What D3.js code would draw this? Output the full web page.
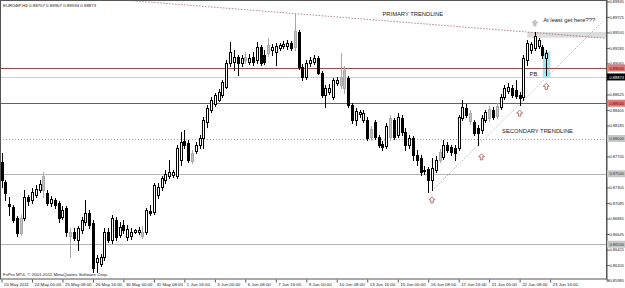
<!DOCTYPE html>
<html>
<head>
<meta charset="utf-8">
<script src="https://cdn.jsdelivr.net/npm/d3@7"></script>
<style>
body { margin: 0; background: #fff; }
svg { display: block; }
text { font-family: "Liberation Sans", Arial, sans-serif; }
</style>
</head>
<body>
<div id="chart-area"></div>
<script>
// EURGBP H4 candles, 20 May 16:00 .. 23 Jun 12:00
var open = [.8767,.8738,.8707,.8703,.8687,.8666,.8687,.8717,.8713,.8720,
  .8727,.8727,.8723,.8708,.8713,.8708,.8688,.8701,.8667,.8667,
  .8656,.8670,.8681,.8694,.8680,.8625,.8622,.8632,.8667,.8656,
  .8684,.8663,.8677,.8660,.8661,.8668,.8667,.8661,.8667,.8697,
  .8696,.8720,.8731,.8741,.8747,.8748,.8747,.8769,.8796,.8793,
  .8768,.8782,.8791,.8801,.8823,.8840,.8849,.8855,.8862,.8873,
  .8907,.8908,.8916,.8907,.8911,.8908,.8916,.8911,.8930,.8918,
  .8921,.8925,.8923,.8928,.8931,.8931,.8935,.8930,.8951,.8901,
  .8887,.8907,.8908,.8914,.8893,.8862,.8866,.8859,.8879,.8876,
  .8872,.8886,.8847,.8826,.8835,.8826,.8826,.8802,.8823,.8802,
  .8792,.8789,.8802,.8826,.8805,.8829,.8809,.8791,.8801,.8776,
  .8772,.8755,.8757,.8741,.8755,.8769,.8774,.8791,.8788,.8786,
  .8786,.8829,.8843,.8836,.8823,.8815,.8812,.8826,.8829,.8840,
  .8832,.8845,.8859,.8867,.8872,.8869,.8862,.8859,.8911,.8925,
  .8928,.8931,.8930,.8914];
var high = [.8779,.8741,.8717,.8705,.8690,.8691,.8727,.8720,.8730,.8734,
  .8741,.8752,.8727,.8718,.8715,.8711,.8704,.8704,.8673,.8673,
  .8676,.8688,.8713,.8698,.8684,.8635,.8636,.8673,.8673,.8691,
  .8688,.8681,.8684,.8677,.8673,.8671,.8674,.8676,.8701,.8705,
  .8737,.8737,.8747,.8755,.8769,.8755,.8791,.8809,.8812,.8798,
  .8784,.8795,.8805,.8830,.8847,.8859,.8864,.8870,.8883,.8911,
  .8937,.8925,.8918,.8918,.8923,.8920,.8923,.8937,.8933,.8925,
  .8943,.8934,.8935,.8935,.8938,.8940,.8938,.8977,.8954,.8906,
  .8911,.8916,.8918,.8917,.8896,.8876,.8877,.8886,.8887,.8921,
  .8903,.8889,.8850,.8843,.8840,.8840,.8830,.8818,.8826,.8805,
  .8796,.8822,.8833,.8829,.8836,.8833,.8815,.8805,.8803,.8784,
  .8776,.8761,.8760,.8772,.8775,.8785,.8798,.8795,.8791,.8791,
  .8833,.8855,.8849,.8840,.8826,.8819,.8833,.8840,.8846,.8845,
  .8850,.8863,.8876,.8879,.8876,.8883,.8866,.8918,.8940,.8937,
  .8951,.8943,.8933,.8925];
var low = [.8731,.8713,.8691,.8681,.8661,.8663,.8684,.8705,.8708,.8717,
  .8724,.8717,.8705,.8704,.8701,.8681,.8686,.8661,.8632,.8656,
  .8642,.8666,.8678,.8673,.8610,.8610,.8619,.8628,.8653,.8652,
  .8656,.8660,.8666,.8656,.8657,.8666,.8664,.8659,.8664,.8691,
  .8693,.8715,.8727,.8737,.8744,.8745,.8744,.8762,.8786,.8767,
  .8765,.8779,.8786,.8786,.8816,.8837,.8846,.8853,.8859,.8872,
  .8903,.8897,.8890,.8903,.8907,.8906,.8904,.8907,.8904,.8906,
  .8917,.8918,.8904,.8925,.8928,.8927,.8925,.8925,.8899,.8883,
  .8884,.8903,.8906,.8891,.8859,.8845,.8863,.8856,.8876,.8872,
  .8864,.8845,.8822,.8819,.8830,.8823,.8798,.8798,.8799,.8788,
  .8784,.8786,.8798,.8799,.8802,.8805,.8784,.8786,.8769,.8762,
  .8748,.8750,.8724,.8727,.8752,.8767,.8771,.8781,.8776,.8769,
  .8784,.8826,.8830,.8820,.8805,.8791,.8808,.8823,.8825,.8828,
  .8829,.8842,.8856,.8864,.8859,.8857,.8847,.8855,.8904,.8921,
  .8925,.8928,.8914,.8890];
var close = [.8741,.8723,.8704,.8684,.8666,.8687,.8717,.8711,.8724,.8728,
  .8735,.8747,.8708,.8714,.8705,.8687,.8698,.8667,.8661,.8659,
  .8673,.8684,.8694,.8677,.8616,.8630,.8632,.8667,.8656,.8687,
  .8660,.8674,.8670,.8671,.8668,.8670,.8670,.8668,.8698,.8694,
  .8734,.8731,.8744,.8750,.8752,.8752,.8786,.8795,.8791,.8769,
  .8779,.8791,.8801,.8826,.8843,.8855,.8862,.8866,.8880,.8907,
  .8923,.8916,.8907,.8914,.8916,.8914,.8908,.8930,.8907,.8908,
  .8933,.8930,.8931,.8933,.8934,.8935,.8928,.8952,.8901,.8887,
  .8907,.8911,.8914,.8893,.8862,.8872,.8872,.8883,.8883,.8887,
  .8897,.8847,.8826,.8839,.8837,.8836,.8801,.8813,.8802,.8791,
  .8788,.8818,.8829,.8802,.8830,.8809,.8791,.8801,.8776,.8769,
  .8752,.8754,.8741,.8758,.8769,.8781,.8791,.8784,.8781,.8779,
  .8830,.8845,.8833,.8825,.8808,.8808,.8829,.8837,.8842,.8830,
  .8846,.8859,.8872,.8873,.8862,.8860,.8857,.8914,.8935,.8934,
  .8945,.8940,.8918,.8921];
// candles drawn in gray on the chart
var grayBars = [5,11,18,37,50,64,70,77,89,90,97,102,115,123,128,130];

// time scale labels, one every 8 bars
var timeLabels = ["20 May 2011","24 May 00:00","25 May 08:00","26 May 16:00","30 May 00:00",
  "31 May 08:00","1 Jun 16:00","3 Jun 00:00","6 Jun 08:00","7 Jun 16:00","9 Jun 00:00",
  "10 Jun 08:00","13 Jun 16:00","15 Jun 00:00","16 Jun 08:00","17 Jun 16:00","21 Jun 00:00",
  "22 Jun 08:00","23 Jun 16:00"];
var priceTicks = [0.89945,0.89725,0.89505,0.89285,0.89065,0.88845,0.88625,0.88405,0.88185,
  0.87965,0.87745,0.87525,0.87305,0.87085,0.86865,0.86645,0.86425,0.86205,0.85985];

var header = "EURGBP,H4  0.88707 0.88907 0.88594 0.88873";
var copyright = "FxPro MT4, \u00a9 2001-2011 MetaQuotes Software Corp.";

// horizontal levels
var redLevels = [0.89000, 0.88500];
var grayLevels = [0.87500, 0.86500];
var dottedLevels = [0.88000];
var bidPrice = 0.88873;

// drawn objects: trendlines as [bar, price] pairs
var primaryLine = [[33, 0.8996], [159, 0.8942]];
var secondaryLine = [[112.5, 0.8723], [158, 0.8967]];
var arrowBars = [113, 126, 136, 143];
var arrowPrices = [0.8713, 0.8774, 0.8836, 0.8874];
var targetZone = {bar: 138, top: 0.8951, bottom: 0.8943};
var pbZone = {bar: 143, top: 0.8923, bottom: 0.8886};

var width = 606, height = 279;

var svg = d3.select("#chart-area")
    .append("svg")
    .attr("width", 625)
    .attr("height", 288);

var x = d3.scaleLinear().domain([0, 143]).range([1.5, 546.3]);
var y = d3.scaleLinear().domain([0.86, 0.90]).range([279.5, -2.5]);

svg.append("clipPath").attr("id", "plot")
    .append("rect").attr("width", width).attr("height", height);

var g = svg.append("g").attr("clip-path", "url(#plot)");

function py(p) { return Math.round(y(p)) + 0.5; }

// target zone and PB box
g.append("rect")
    .attr("x", x(targetZone.bar)).attr("y", y(targetZone.top))
    .attr("width", width - x(targetZone.bar)).attr("height", y(targetZone.bottom) - y(targetZone.top))
    .attr("fill", "#dcdcdc");
g.append("rect")
    .attr("x", x(pbZone.bar) - 3.5).attr("y", y(pbZone.top))
    .attr("width", 7.5).attr("height", y(pbZone.bottom) - y(pbZone.top))
    .attr("fill", "#a6e4ee");

// levels
g.selectAll(".red").data(redLevels).enter().append("line")
    .attr("x1", 0).attr("x2", width).attr("y1", py).attr("y2", py)
    .attr("stroke", "#9a4a4a").attr("stroke-width", 1);
g.selectAll(".gl").data(grayLevels).enter().append("line")
    .attr("x1", 0).attr("x2", width).attr("y1", py).attr("y2", py)
    .attr("stroke", "#b4b4b4");
g.selectAll(".dl").data(dottedLevels).enter().append("line")
    .attr("x1", 0).attr("x2", width).attr("y1", py).attr("y2", py)
    .attr("stroke", "#a0a0a0").attr("stroke-dasharray", "1,2");
g.append("line")
    .attr("x1", 0).attr("x2", width).attr("y1", py(bidPrice)).attr("y2", py(bidPrice))
    .attr("stroke", "#cfcfcf");

// trendlines
g.append("line")
    .attr("x1", x(primaryLine[0][0])).attr("y1", y(primaryLine[0][1]))
    .attr("x2", x(primaryLine[1][0])).attr("y2", y(primaryLine[1][1]))
    .attr("stroke", "#a06868").attr("stroke-width", 0.8).attr("stroke-dasharray", "1.5,1.5");
g.append("line")
    .attr("x1", x(secondaryLine[0][0])).attr("y1", y(secondaryLine[0][1]))
    .attr("x2", x(secondaryLine[1][0])).attr("y2", y(secondaryLine[1][1]))
    .attr("stroke", "#a8a8a8").attr("stroke-width", 0.8).attr("stroke-dasharray", "1.5,1.5");

// candles
var bars = d3.range(open.length);
function kind(i) {
    if (grayBars.indexOf(i) >= 0) return "g";
    return close[i] >= open[i] ? "up" : "dn";
}
var candle = g.selectAll(".candle").data(bars).enter().append("g");
candle.append("line")
    .attr("x1", function (i) { return Math.round(x(i)) + 0.5; })
    .attr("x2", function (i) { return Math.round(x(i)) + 0.5; })
    .attr("y1", function (i) { return Math.round(y(high[i])); })
    .attr("y2", function (i) { return Math.round(y(low[i])) + 1; })
    .attr("stroke", function (i) { return kind(i) == "g" ? "#a8a8a8" : "#000"; });
candle.append("rect")
    .attr("x", function (i) { return Math.round(x(i)) - 0.5; })
    .attr("y", function (i) { return py(Math.max(open[i], close[i])); })
    .attr("width", 2)
    .attr("height", function (i) { return Math.max(1, Math.round(y(Math.min(open[i], close[i]))) - Math.round(y(Math.max(open[i], close[i])))); })
    .attr("fill", function (i) { var k = kind(i); return k == "up" ? "#fff" : (k == "dn" ? "#000" : "#c4c4c4"); })
    .attr("stroke", function (i) { return kind(i) == "g" ? "#a8a8a8" : "#000"; });

// arrows under the swing lows
var arrowPath = "M0,-3L3,0L1.2,0L1.2,3L-1.2,3L-1.2,0L-3,0Z";
g.selectAll(".arrow").data(arrowBars).enter().append("path")
    .attr("d", arrowPath)
    .attr("transform", function (b, i) { return "translate(" + x(b) + "," + y(arrowPrices[i]) + ")"; })
    .attr("fill", "#fff").attr("stroke", "#a05050").attr("stroke-width", 0.8);
g.append("path")
    .attr("d", arrowPath)
    .attr("transform", "translate(" + x(140) + "," + y(0.8964) + ")")
    .attr("fill", "#c8c8c8").attr("stroke", "#b0b0b0").attr("stroke-width", 0.6);

// annotations
function note(txt, bar, price) {
    g.append("text").attr("x", x(bar)).attr("y", y(price) + 2)
        .attr("font-size", "5.8px").attr("fill", "#222").text(txt);
}
note("PRIMARY TRENDLINE", 100, 0.8977);
note("At least get here???", 142.2, 0.8968);
note("SECONDARY TRENDLINE", 131.4, 0.8810);
note("PB", 138.6, 0.8892);

// frame
svg.append("rect").attr("x", 0.5).attr("y", 0.5).attr("width", width).attr("height", height - 0.5)
    .attr("fill", "none").attr("stroke", "#555");

// highlighted price labels
var tags = [];
redLevels.forEach(function (p) { tags.push({p: p, bg: "#e07a7a", fg: "#5a0000"}); });
tags.push({p: bidPrice, bg: "#000", fg: "#fff"});
dottedLevels.concat(grayLevels).forEach(function (p) { tags.push({p: p, bg: "#c8c8c8", fg: "#333"}); });

// price axis, labels hidden where a level tag sits on them
var fmt = d3.format(".5f");
var shownTicks = priceTicks.filter(function (p) {
    return !tags.some(function (t) { return Math.abs(y(t.p) - y(p)) < 4.5; });
});
var yAxisCall = d3.axisRight(y).tickValues(priceTicks).tickSize(3)
    .tickFormat(function (p) { return shownTicks.indexOf(p) >= 0 ? fmt(p) : ""; });
var ya = svg.append("g").attr("transform", "translate(" + (width + 0.5) + ",0)").call(yAxisCall);
ya.select(".domain").attr("stroke", "#555");
ya.selectAll("line").attr("stroke", "#555");
ya.selectAll("text").attr("font-size", "4.3px").attr("fill", "#222").attr("x", 3)
    .attr("textLength", 14.5).attr("lengthAdjust", "spacingAndGlyphs");

var tag = svg.selectAll(".tag").data(tags).enter().append("g")
    .attr("transform", function (d) { return "translate(" + (width + 1) + "," + y(d.p) + ")"; });
tag.append("rect").attr("x", 0).attr("y", -3.5).attr("width", 18).attr("height", 7)
    .attr("fill", function (d) { return d.bg; });
tag.append("text").attr("x", 2.5).attr("y", 1.6).attr("font-size", "4.3px")
    .attr("textLength", 14.5).attr("lengthAdjust", "spacingAndGlyphs")
    .attr("fill", function (d) { return d.fg; })
    .text(function (d) { return fmt(d.p); });

// time axis
var xAxisCall = d3.axisBottom(x)
    .tickValues(d3.range(0, timeLabels.length * 8, 8))
    .tickSize(3)
    .tickFormat(function (d, i) { return timeLabels[i]; });
var xa = svg.append("g").attr("transform", "translate(0," + (height + 0.5) + ")").call(xAxisCall);
xa.select(".domain").remove();
xa.selectAll("line").attr("stroke", "#555");
xa.selectAll("text").attr("font-size", "4.4px").attr("fill", "#222")
    .attr("text-anchor", "start").attr("dx", 2).attr("y", 3.5);

svg.append("text").attr("x", 3).attr("y", 7).attr("font-size", "4.4px").attr("fill", "#222").text(header);
svg.append("text").attr("x", 3).attr("y", 276).attr("font-size", "4.4px").attr("fill", "#222").text(copyright);
</script>
</body>
</html>
